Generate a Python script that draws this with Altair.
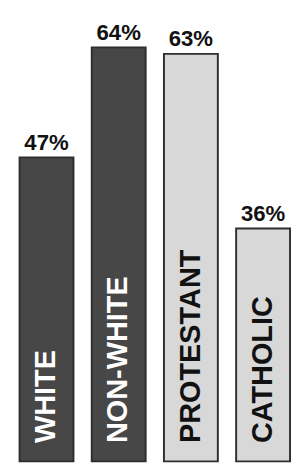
import altair as alt
import pandas as pd

categories = ["WHITE", "NON-WHITE", "PROTESTANT", "CATHOLIC"]
values = [47, 64, 63, 36]
groups = ["race", "race", "religion", "religion"]
value_labels = ["47%", "64%", "63%", "36%"]

df = pd.DataFrame({"cat": categories, "value": values, "group": groups, "lbl": value_labels})

x = alt.X("cat:N", sort=categories, axis=None,
          scale=alt.Scale(range=[12, 293], paddingInner=0.2533, paddingOuter=0))
yscale = alt.Scale(domain=[1.19, 68.75], nice=False, zero=False)
y = alt.Y("value:Q", axis=None, scale=yscale)

color_scale = alt.Scale(domain=["race", "religion"], range=["#474747", "#d8d8d8"])

bars = alt.Chart(df).mark_bar(stroke="#2e2e2e", strokeWidth=2).encode(
    x=x, y=y, y2=alt.datum(0),
    fill=alt.Fill("group:N", scale=color_scale, legend=None),
)

top = alt.Chart(df).mark_text(
    font="Liberation Sans", fontWeight="bold", fontSize=23, dy=-8, baseline="alphabetic", color="#111"
).encode(x=x, y=y, text="lbl:N")

inner = alt.Chart(df).mark_text(
    font="Liberation Sans", fontWeight="bold", fontSize=30, angle=270, align="left",
    baseline="middle", dx=19
).encode(
    x=x,
    y=alt.Y("zero:Q", axis=None, scale=yscale),
    text="cat:N",
    color=alt.Color("group:N", scale=alt.Scale(domain=["race", "religion"], range=["#ffffff", "#111111"]), legend=None),
).transform_calculate(zero="0")

chart = alt.layer(bars, top, inner).resolve_scale(color="independent").properties(
    width=283, height=454, padding=0
).configure_view(stroke=None)

chart.save("out.html", embed_options={"renderer": "svg", "actions": False})
